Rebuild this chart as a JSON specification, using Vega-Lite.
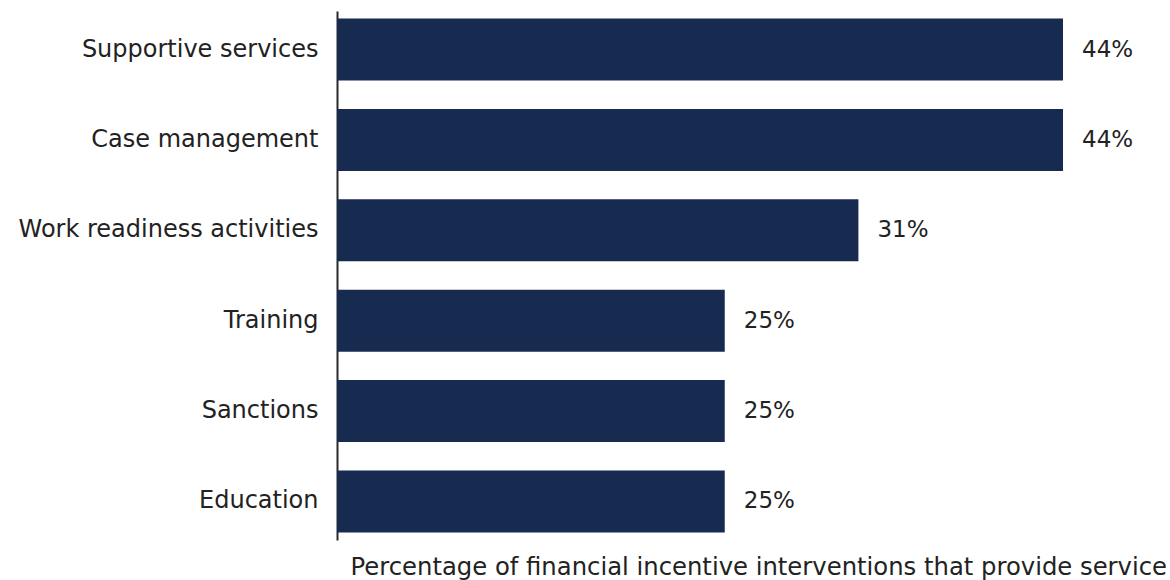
{
  "$schema": "https://vega.github.io/schema/vega-lite/v6.json",
  "autosize": {"type": "none"},
  "width": 825,
  "height": 529,
  "padding": {"left": 337, "top": 11, "right": 8, "bottom": 40},
  "background": "white",
  "data": {
    "values": [
      {"service": "Supportive services", "length": 44, "label": "44%"},
      {"service": "Case management", "length": 44, "label": "44%"},
      {"service": "Work readiness activities", "length": 31.6, "label": "31%"},
      {"service": "Training", "length": 23.5, "label": "25%"},
      {"service": "Sanctions", "length": 23.5, "label": "25%"},
      {"service": "Education", "length": 23.5, "label": "25%"}
    ]
  },
  "config": {
    "view": {"stroke": null},
    "font": "DejaVu Sans"
  },
  "encoding": {
    "y": {
      "field": "service",
      "type": "nominal",
      "sort": null,
      "scale": {"paddingInner": 0.314, "paddingOuter": 0.083},
      "axis": {
        "title": null,
        "ticks": false,
        "labelFont": "DejaVu Sans",
        "labelFontSize": 24,
        "labelColor": "#222222",
        "labelPadding": 19,
        "domainColor": "#2a2a2a",
        "domainWidth": 2,
        "grid": false,
        "labelLimit": 400
      }
    },
    "x": {
      "field": "length",
      "type": "quantitative",
      "scale": {"domain": [0, 50], "nice": false},
      "axis": {
        "title": "Percentage of financial incentive interventions that provide service",
        "titleFont": "DejaVu Sans",
        "titleFontSize": 24.3,
        "titleFontWeight": "normal",
        "titleColor": "#222222",
        "titleAnchor": "start",
        "titleAlign": "left",
        "titleBaseline": "alphabetic",
        "titleX": 13,
        "titleY": 34,
        "domain": false,
        "ticks": false,
        "labels": false,
        "grid": false
      }
    }
  },
  "layer": [
    {"mark": {"type": "bar", "color": "#172a50"}},
    {
      "mark": {"type": "text", "align": "left", "baseline": "middle", "dx": 19, "fontSize": 23, "color": "#222222", "font": "DejaVu Sans"},
      "encoding": {"text": {"field": "label"}}
    }
  ]
}
